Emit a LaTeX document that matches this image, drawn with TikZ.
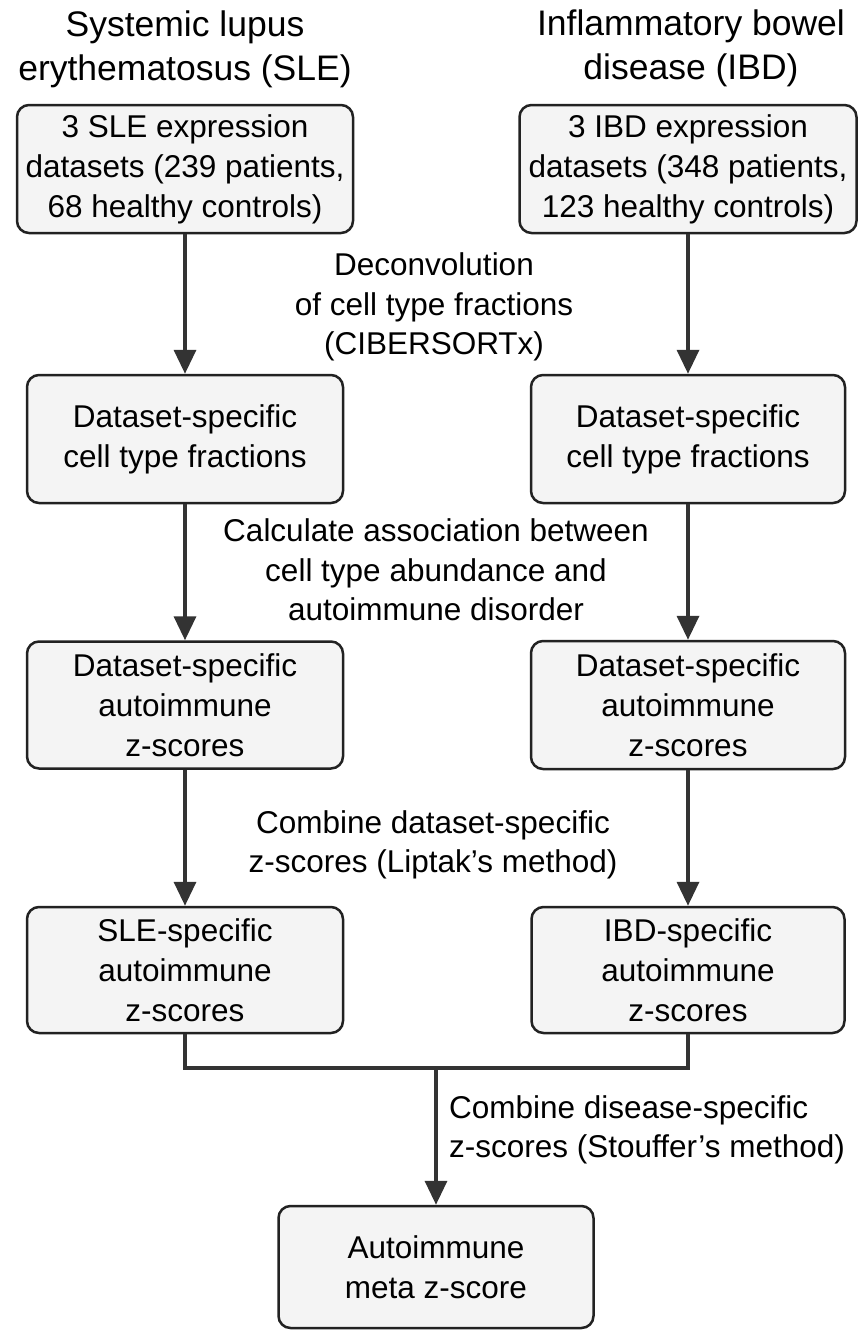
\documentclass[tikz,border=0pt]{standalone}
\usepackage{fontspec}
\setmainfont{Liberation Sans}
\usetikzlibrary{arrows.meta}
\definecolor{boxfill}{HTML}{F4F4F4}
\definecolor{boxline}{HTML}{222222}
\definecolor{arrowcol}{HTML}{333333}
\tikzset{
  stepbox/.style={draw=boxline, line width=2.5pt, fill=boxfill, rounded corners=12pt,
    align=center, inner sep=0pt, font=\fontsize{31.5}{40}\selectfont},
  titletext/.style={align=center, inner sep=0pt, font=\fontsize{35.5}{44}\selectfont},
  labeltext/.style={align=center, inner sep=0pt, font=\fontsize{31.5}{39.5}\selectfont},
  flow/.style={draw=arrowcol, line width=3.5pt, -{Triangle[length=24pt,width=22pt]}},
  joinline/.style={draw=arrowcol, line width=3.5pt}
}
\begin{document}
\begin{tikzpicture}[x=1pt,y=-1pt]
\useasboundingbox (0,0) rectangle (857,1330);
% titles
\node[titletext] (tL) at (185,49.5) {Systemic lupus\\erythematosus (SLE)};
\node[titletext] (tR) at (691,48) {Inflammatory bowel\\disease (IBD)};
% boxes
\node[stepbox, minimum width=336pt, minimum height=128pt] (b1L) at (185,169)
  {3 SLE expression\\datasets (239 patients,\\68 healthy controls)};
\node[stepbox, minimum width=337pt, minimum height=128pt] (b1R) at (688,169)
  {3 IBD expression\\datasets (348 patients,\\123 healthy controls)};
\node[stepbox, minimum width=316pt, minimum height=128pt] (b2L) at (185,439)
  {Dataset-specific\\cell type fractions};
\node[stepbox, minimum width=314pt, minimum height=128pt] (b2R) at (688,439)
  {Dataset-specific\\cell type fractions};
\node[stepbox, minimum width=316pt, minimum height=127pt] (b3L) at (185,705)
  {Dataset-specific\\autoimmune\\z-scores};
\node[stepbox, minimum width=314pt, minimum height=128pt] (b3R) at (688,705)
  {Dataset-specific\\autoimmune\\z-scores};
\node[stepbox, minimum width=316pt, minimum height=126pt] (b4L) at (185,970)
  {SLE-specific\\autoimmune\\z-scores};
\node[stepbox, minimum width=313pt, minimum height=126pt] (b4R) at (688,970)
  {IBD-specific\\autoimmune\\z-scores};
\node[stepbox, minimum width=315pt, minimum height=122pt] (fin) at (436,1267)
  {Autoimmune\\meta z-score};
% labels
\node[labeltext] (l1) at (434,307) {Deconvolution\\of cell type fractions\\(CIBERSORTx)};
\node[labeltext] (l2) at (436,570) {Calculate association between\\cell type abundance and\\autoimmune disorder};
\node[labeltext] (l3) at (433,845) {Combine dataset-specific\\z-scores (Liptak’s method)};
\node[labeltext, anchor=west, align=left] (l4) at (449,1130) {Combine disease-specific\\z-scores (Stouffer’s method)};
% connectors
\draw[flow] (b1L) -- (b2L);
\draw[flow] (b1R) -- (b2R);
\draw[flow] (b2L) -- (b3L);
\draw[flow] (b2R) -- (b3R);
\draw[flow] (b3L) -- (b4L);
\draw[flow] (b3R) -- (b4R);
\coordinate (m) at (436,1068);
\draw[joinline] (b4L.south) |- (m) -| (b4R.south);
\draw[flow] (m) -- (fin.north);
\end{tikzpicture}
\end{document}
